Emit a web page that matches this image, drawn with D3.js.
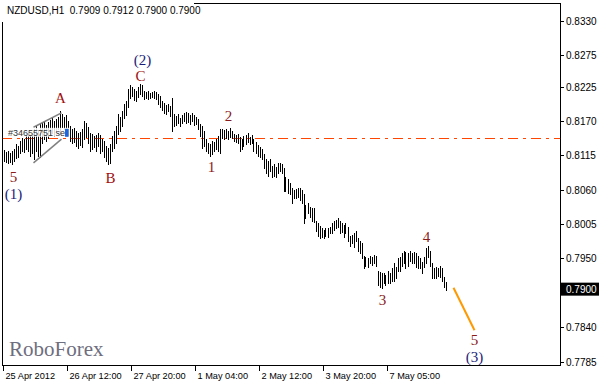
<!DOCTYPE html>
<html>
<head>
<meta charset="utf-8">
<script src="https://cdn.jsdelivr.net/npm/d3@7"></script>
<style>
    body { margin: 0; background: #fff; }
    #chart-container { width: 600px; height: 383px; }
    text { font-family: "Liberation Sans", Arial, sans-serif; }
</style>
</head>
<body>
<div id="chart-container"></div>
<script>
// H1 bar highs / lows (one per hour bar)
const barHighs = [
    0.8124, 0.8121, 0.8122, 0.8119, 0.8122, 0.8125, 0.8133, 0.8130, 0.8138, 0.8143,
    0.8141, 0.8148, 0.8151, 0.8146, 0.8149, 0.8157, 0.8162, 0.8154, 0.8165, 0.8167,
    0.8170, 0.8164, 0.8169, 0.8172, 0.8175, 0.8170, 0.8173, 0.8177, 0.8186, 0.8181,
    0.8177, 0.8180, 0.8170, 0.8162, 0.8157, 0.8159, 0.8154, 0.8151, 0.8153, 0.8157,
    0.8170, 0.8167, 0.8161, 0.8151, 0.8149, 0.8146, 0.8148, 0.8151, 0.8148, 0.8141,
    0.8138, 0.8130, 0.8127, 0.8133, 0.8146, 0.8154, 0.8162, 0.8181, 0.8177, 0.8186,
    0.8197, 0.8202, 0.8221, 0.8228, 0.8225, 0.8221, 0.8218, 0.8225, 0.8229, 0.8228,
    0.8218, 0.8217, 0.8218, 0.8215, 0.8217, 0.8218, 0.8217, 0.8213, 0.8210, 0.8202,
    0.8199, 0.8196, 0.8197, 0.8194, 0.8207, 0.8181, 0.8178, 0.8181, 0.8175, 0.8180,
    0.8183, 0.8185, 0.8183, 0.8180, 0.8183, 0.8180, 0.8177, 0.8173, 0.8165, 0.8162,
    0.8154, 0.8141, 0.8135, 0.8133, 0.8138, 0.8137, 0.8141, 0.8146, 0.8157, 0.8157,
    0.8156, 0.8157, 0.8154, 0.8159, 0.8154, 0.8149, 0.8148, 0.8149, 0.8145, 0.8141,
    0.8146, 0.8148, 0.8151, 0.8145, 0.8148, 0.8141, 0.8137, 0.8132, 0.8129, 0.8125,
    0.8117, 0.8109, 0.8106, 0.8109, 0.8098, 0.8101, 0.8097, 0.8103, 0.8103, 0.8101,
    0.8094, 0.8081, 0.8077, 0.8070, 0.8063, 0.8060, 0.8061, 0.8063, 0.8063, 0.8060,
    0.8053, 0.8036, 0.8038, 0.8033, 0.8030, 0.8030, 0.8010, 0.8007, 0.8002, 0.7998,
    0.7996, 0.7998, 0.7999, 0.8001, 0.8007, 0.8010, 0.8012, 0.8015, 0.8010, 0.8006,
    0.8004, 0.8006, 0.8001, 0.7986, 0.7988, 0.7991, 0.7994, 0.7982, 0.7978, 0.7974,
    0.7954, 0.7953, 0.7951, 0.7954, 0.7953, 0.7956, 0.7954, 0.7930, 0.7929, 0.7926,
    0.7927, 0.7924, 0.7930, 0.7927, 0.7934, 0.7942, 0.7937, 0.7950, 0.7953, 0.7959,
    0.7962, 0.7961, 0.7958, 0.7962, 0.7959, 0.7961, 0.7958, 0.7954, 0.7950, 0.7945,
    0.7953, 0.7967, 0.7970, 0.7962, 0.7943, 0.7934, 0.7937, 0.7935, 0.7938, 0.7934,
    0.7921, 0.7912
];
const barLows = [
    0.8106, 0.8105, 0.8103, 0.8105, 0.8101, 0.8106, 0.8111, 0.8113, 0.8119, 0.8122,
    0.8121, 0.8125, 0.8122, 0.8114, 0.8119, 0.8109, 0.8122, 0.8114, 0.8113, 0.8135,
    0.8141, 0.8138, 0.8143, 0.8148, 0.8151, 0.8146, 0.8154, 0.8157, 0.8149, 0.8161,
    0.8157, 0.8154, 0.8146, 0.8138, 0.8135, 0.8137, 0.8130, 0.8127, 0.8132, 0.8129,
    0.8141, 0.8145, 0.8135, 0.8122, 0.8125, 0.8129, 0.8122, 0.8130, 0.8119, 0.8122,
    0.8113, 0.8106, 0.8101, 0.8103, 0.8122, 0.8127, 0.8135, 0.8149, 0.8154, 0.8162,
    0.8175, 0.8180, 0.8193, 0.8207, 0.8210, 0.8204, 0.8202, 0.8209, 0.8213, 0.8210,
    0.8205, 0.8207, 0.8205, 0.8207, 0.8209, 0.8207, 0.8205, 0.8197, 0.8193, 0.8188,
    0.8183, 0.8181, 0.8186, 0.8178, 0.8154, 0.8162, 0.8164, 0.8167, 0.8162, 0.8167,
    0.8170, 0.8167, 0.8169, 0.8165, 0.8170, 0.8164, 0.8165, 0.8157, 0.8146, 0.8127,
    0.8130, 0.8122, 0.8119, 0.8114, 0.8117, 0.8122, 0.8125, 0.8122, 0.8119, 0.8143,
    0.8141, 0.8143, 0.8141, 0.8145, 0.8143, 0.8138, 0.8137, 0.8135, 0.8122, 0.8125,
    0.8130, 0.8133, 0.8137, 0.8133, 0.8135, 0.8122, 0.8119, 0.8114, 0.8113, 0.8109,
    0.8094, 0.8087, 0.8082, 0.8090, 0.8081, 0.8082, 0.8081, 0.8087, 0.8090, 0.8087,
    0.8058, 0.8058, 0.8055, 0.8053, 0.8039, 0.8046, 0.8047, 0.8049, 0.8044, 0.8039,
    0.8007, 0.8015, 0.8022, 0.8017, 0.8010, 0.8009, 0.7994, 0.7986, 0.7983, 0.7985,
    0.7982, 0.7986, 0.7985, 0.7990, 0.7991, 0.7996, 0.7998, 0.8001, 0.7991, 0.7993,
    0.7985, 0.7991, 0.7978, 0.7970, 0.7974, 0.7969, 0.7978, 0.7962, 0.7959, 0.7951,
    0.7934, 0.7938, 0.7937, 0.7942, 0.7940, 0.7943, 0.7938, 0.7908, 0.7905, 0.7903,
    0.7910, 0.7908, 0.7911, 0.7910, 0.7914, 0.7914, 0.7918, 0.7930, 0.7930, 0.7938,
    0.7943, 0.7934, 0.7938, 0.7946, 0.7943, 0.7943, 0.7937, 0.7935, 0.7934, 0.7927,
    0.7937, 0.7943, 0.7953, 0.7938, 0.7918, 0.7918, 0.7919, 0.7922, 0.7921, 0.7914,
    0.7905, 0.7900
];

// price scale labels (0.7900 sits under the current price tag)
const priceTicks = [0.8330, 0.8275, 0.8225, 0.8170, 0.8115, 0.8060, 0.8005, 0.7950, 0.7840, 0.7785];
const timeLabels = ["25 Apr 2012", "26 Apr 12:00", "27 Apr 20:00", "1 May 04:00", "2 May 12:00", "3 May 20:00", "7 May 05:00"];
const timeLabelBars = [0, 32, 64, 96, 128, 160, 192];

const lastPrice = 0.7900;
const orderPrice = 0.8143;
const orderLabel = "#34655751 sell";

// wave marks: text, bar index, price
const waveLabels = [
    { text: "5", bar: 5, price: 0.8081, color: "#8b1a1a" },
    { text: "(1)", bar: 5, price: 0.8053, color: "#1c1c78" },
    { text: "A", bar: 28.5, price: 0.8206, color: "#a01010" },
    { text: "B", bar: 53.5, price: 0.8079, color: "#a01010" },
    { text: "C", bar: 68.5, price: 0.8242, color: "#a01010" },
    { text: "(2)", bar: 69.5, price: 0.8268, color: "#1c1c78" },
    { text: "1", bar: 104, price: 0.8097, color: "#8b1a1a" },
    { text: "2", bar: 112.5, price: 0.8178, color: "#8b1a1a" },
    { text: "3", bar: 189.5, price: 0.7884, color: "#8b1a1a" },
    { text: "4", bar: 211.5, price: 0.7985, color: "#8b1a1a" },
    { text: "5", bar: 235.5, price: 0.7819, color: "#8b1a1a" },
    { text: "(3)", bar: 235.5, price: 0.7792, color: "#1c1c78" }
];

// forecast leg and the small channel drawn near A
const forecastBars = [225, 235.5];
const forecastPrices = [0.7903, 0.7835];
const channelLines = [
    { bars: [15, 29], prices: [0.8160, 0.8183] },
    { bars: [15, 29], prices: [0.8103, 0.8141] }
];

const width = 600;
const height = 383;
const plot = { left: 2, top: 3, right: 560, bottom: 365 };

function drawChart() {
    const svg = d3.select("#chart-container")
        .append("svg")
        .attr("width", width)
        .attr("height", height);

    const x = d3.scaleLinear()
        .domain([0, 278])
        .range([3.5, 559.5]);

    const y = d3.scaleLinear()
        .domain([0.7785, 0.8330])
        .range([361.5, 21]);

    // dash-dot order line
    svg.append("line")
        .attr("x1", plot.left)
        .attr("x2", plot.right)
        .attr("y1", Math.round(y(orderPrice)) + 0.5)
        .attr("y2", Math.round(y(orderPrice)) + 0.5)
        .attr("stroke", "#ff4500")
        .attr("stroke-width", 1)
        .attr("stroke-dasharray", "10,5,3,5");

    // hour bars, high to low
    svg.append("g")
        .selectAll("line")
        .data(barHighs.map((h, i) => ({ i: i, high: h, low: barLows[i] })))
        .enter().append("line")
        .attr("x1", d => Math.round(x(d.i)) + 0.5)
        .attr("x2", d => Math.round(x(d.i)) + 0.5)
        .attr("y1", d => Math.round(y(d.high)))
        .attr("y2", d => Math.round(y(d.low)) + 1)
        .attr("stroke", "#000")
        .attr("stroke-width", 1);

    // channel near A
    const lineGen = d3.line()
        .x(d => x(d[0]))
        .y(d => y(d[1]));

    svg.append("g")
        .selectAll("path")
        .data(channelLines)
        .enter().append("path")
        .attr("d", d => lineGen(d.bars.map((b, k) => [b, d.prices[k]])))
        .attr("fill", "none")
        .attr("stroke", "#808080")
        .attr("stroke-width", 1.5);

    // order label on the line, over a white patch so it stays readable
    const orderText = svg.append("text")
        .attr("x", 8)
        .attr("y", y(orderPrice) - 2)
        .attr("font-size", 9)
        .attr("fill", "#333")
        .text(orderLabel);
    const box = orderText.node().getBBox();
    svg.insert("rect", "text")
        .attr("x", box.x - 1)
        .attr("y", box.y)
        .attr("width", box.width + 2)
        .attr("height", box.height - 1)
        .attr("fill", "#fff")
        .attr("fill-opacity", 0.85);

    svg.append("rect")
        .attr("x", box.x + box.width - 4)
        .attr("y", y(orderPrice) - 9)
        .attr("width", 3)
        .attr("height", 8)
        .attr("fill", "#1e64dc");

    // forecast leg
    svg.append("path")
        .attr("d", lineGen(forecastBars.map((b, k) => [b, forecastPrices[k]])))
        .attr("fill", "none")
        .attr("stroke", "#ff9900")
        .attr("stroke-width", 2);

    // wave labels
    svg.append("g")
        .selectAll("text")
        .data(waveLabels)
        .enter().append("text")
        .attr("x", d => x(d.bar))
        .attr("y", d => y(d.price))
        .attr("text-anchor", "middle")
        .attr("dominant-baseline", "central")
        .style("font-family", "'Liberation Serif', 'Times New Roman', serif")
        .attr("font-size", 15)
        .attr("fill", d => d.color)
        .text(d => d.text);

    // watermark
    svg.append("text")
        .attr("x", 9)
        .attr("y", 356)
        .style("font-family", "'Liberation Serif', 'Times New Roman', serif")
        .attr("font-size", 21)
        .attr("fill", "#6e6e7e")
        .text("RoboForex");

    // frame
    svg.append("rect")
        .attr("x", plot.left + 0.5)
        .attr("y", plot.top + 0.5)
        .attr("width", plot.right - plot.left)
        .attr("height", plot.bottom - plot.top)
        .attr("fill", "none")
        .attr("stroke", "#000")
        .attr("stroke-width", 1);

    // title sits on a white box over the frame corner
    svg.append("rect")
        .attr("x", 0)
        .attr("y", 0)
        .attr("width", 194)
        .attr("height", 22)
        .attr("fill", "#fff");

    svg.append("text")
        .attr("x", 7)
        .attr("y", 14)
        .attr("font-size", 10)
        .attr("fill", "#000")
        .attr("xml:space", "preserve")
        .text("NZDUSD,H1  0.7909 0.7912 0.7900 0.7900");

    // price axis
    const yAxis = svg.append("g");
    priceTicks.forEach(p => {
        const py = Math.round(y(p)) + 0.5;
        yAxis.append("line")
            .attr("x1", plot.right + 1).attr("x2", plot.right + 4)
            .attr("y1", py).attr("y2", py)
            .attr("stroke", "#000");
        yAxis.append("text")
            .attr("x", plot.right + 6)
            .attr("y", py)
            .attr("dominant-baseline", "central")
            .attr("font-size", 10)
            .attr("fill", "#000")
            .text(p.toFixed(4));
    });

    // current price tag
    const lp = y(lastPrice);
    svg.append("rect")
        .attr("x", plot.right + 1)
        .attr("y", lp - 7)
        .attr("width", width - plot.right - 2)
        .attr("height", 13)
        .attr("fill", "#000");
    svg.append("text")
        .attr("x", plot.right + 6)
        .attr("y", lp)
        .attr("dominant-baseline", "central")
        .attr("font-size", 10)
        .attr("fill", "#fff")
        .text(lastPrice.toFixed(4));

    // time axis
    const xAxis = svg.append("g");
    timeLabels.forEach((label, k) => {
        const tx = Math.round(x(timeLabelBars[k])) - 0.5;
        xAxis.append("line")
            .attr("x1", tx).attr("x2", tx)
            .attr("y1", plot.bottom + 1).attr("y2", plot.bottom + 6)
            .attr("stroke", "#000");
        xAxis.append("text")
            .attr("x", tx + 2)
            .attr("y", plot.bottom + 11)
            .attr("dominant-baseline", "central")
            .attr("font-size", 9.2)
            .attr("fill", "#000")
            .text(label);
    });
}

document.addEventListener('DOMContentLoaded', drawChart);
</script>
</body>
</html>
